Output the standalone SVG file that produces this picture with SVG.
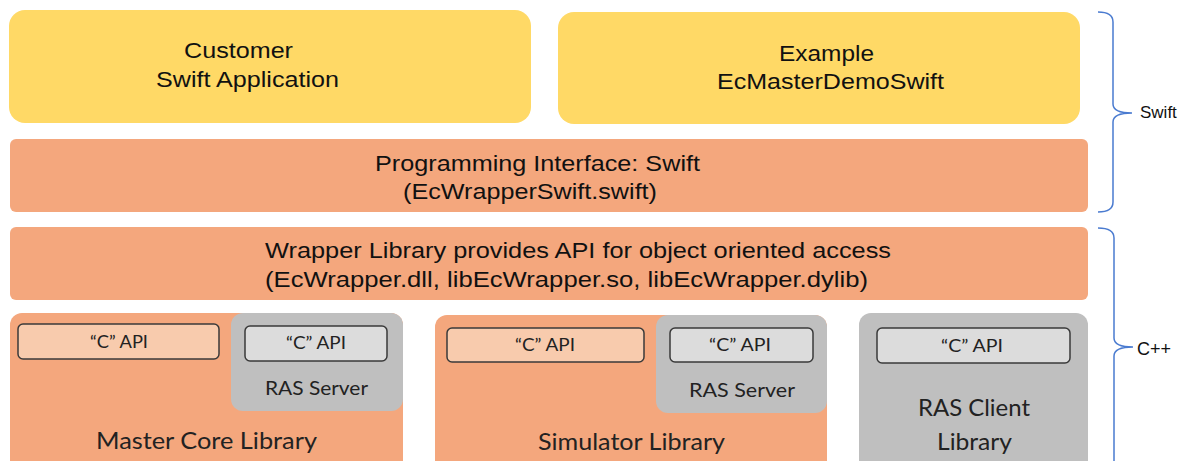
<svg xmlns="http://www.w3.org/2000/svg" width="1187" height="461" viewBox="0 0 1187 461">
<style>
.app{fill:#FFD966;}
.layer{fill:#F4A77D;}
.gray{fill:#BFBFBF;}
.capi-o{fill:#F8CBAD;stroke:#3A3A3A;stroke-width:1.5;}
.capi-g{fill:#DCDCDC;stroke:#3A3A3A;stroke-width:1.5;}
.t1{font-family:"Liberation Sans",Arial,sans-serif;font-size:22.5px;fill:#111;text-anchor:middle;}
.t2{font-family:Lato,"Open Sans",sans-serif;fill:#222;text-anchor:middle;}
.c{font-size:17px;}
.brace{fill:none;stroke:#4A7BD0;stroke-width:1.5;}
.bl{font-family:"Liberation Sans",Arial,sans-serif;fill:#111;}
</style>
<rect width="1187" height="461" fill="#FFFFFF"/>
<g id="customer-app">
<rect class="app" x="9" y="10" width="522" height="113" rx="16"/>
<text class="t1" x="238.5" y="58" textLength="109" lengthAdjust="spacingAndGlyphs">Customer</text>
<text class="t1" x="247.5" y="87" textLength="183" lengthAdjust="spacingAndGlyphs">Swift Application</text>
</g>
<g id="example-app">
<rect class="app" x="558" y="12" width="522" height="112" rx="16"/>
<text class="t1" x="826.5" y="61" textLength="95" lengthAdjust="spacingAndGlyphs">Example</text>
<text class="t1" x="830.5" y="89" textLength="227" lengthAdjust="spacingAndGlyphs">EcMasterDemoSwift</text>
</g>
<g id="swift-interface">
<rect class="layer" x="10" y="139" width="1078" height="73" rx="6"/>
<text class="t1" x="537.5" y="171" textLength="325" lengthAdjust="spacingAndGlyphs">Programming Interface: Swift</text>
<text class="t1" x="530" y="199" textLength="254" lengthAdjust="spacingAndGlyphs">(EcWrapperSwift.swift)</text>
</g>
<g id="wrapper-library">
<rect class="layer" x="10" y="227" width="1078" height="73" rx="6"/>
<text class="t1" x="578" y="258" textLength="626" lengthAdjust="spacingAndGlyphs">Wrapper Library provides API for object oriented access</text>
<text class="t1" x="566.5" y="287" textLength="603" lengthAdjust="spacingAndGlyphs">(EcWrapper.dll, libEcWrapper.so, libEcWrapper.dylib)</text>
</g>
<g id="master-core-library">
<rect class="layer" x="10" y="313" width="393" height="165" rx="12"/>
<rect class="capi-o" x="18" y="324" width="201" height="35" rx="5"/>
<text class="t2 c" x="119" y="348" textLength="58" lengthAdjust="spacingAndGlyphs">“C” API</text>
<text class="t2" x="206.5" y="449" font-size="23" textLength="221" lengthAdjust="spacingAndGlyphs">Master Core Library</text>
</g>
<g id="master-ras-server">
<rect class="gray" x="231" y="313" width="172" height="98" rx="12"/>
<rect class="capi-g" x="245" y="326" width="142" height="35" rx="5"/>
<text class="t2 c" x="316" y="349" textLength="60" lengthAdjust="spacingAndGlyphs">“C” API</text>
<text class="t2" x="316.5" y="395" font-size="19" textLength="103" lengthAdjust="spacingAndGlyphs">RAS Server</text>
</g>
<g id="simulator-library">
<rect class="layer" x="435" y="315" width="392" height="165" rx="12"/>
<rect class="capi-o" x="447" y="328" width="197" height="34" rx="5"/>
<text class="t2 c" x="545" y="351" textLength="60" lengthAdjust="spacingAndGlyphs">“C” API</text>
<text class="t2" x="631.5" y="450" font-size="23" textLength="187" lengthAdjust="spacingAndGlyphs">Simulator Library</text>
</g>
<g id="simulator-ras-server">
<rect class="gray" x="656" y="315" width="171" height="98" rx="12"/>
<rect class="capi-g" x="670" y="328" width="143" height="34" rx="5"/>
<text class="t2 c" x="740" y="351" textLength="62" lengthAdjust="spacingAndGlyphs">“C” API</text>
<text class="t2" x="742" y="397" font-size="19" textLength="106" lengthAdjust="spacingAndGlyphs">RAS Server</text>
</g>
<g id="ras-client-library">
<rect class="gray" x="859" y="313" width="229" height="165" rx="12"/>
<rect class="capi-g" x="877" y="328" width="193" height="35" rx="5"/>
<text class="t2 c" x="972" y="352" textLength="62" lengthAdjust="spacingAndGlyphs">“C” API</text>
<text class="t2" x="974" y="416" font-size="23" textLength="112" lengthAdjust="spacingAndGlyphs">RAS Client</text>
<text class="t2" x="974.5" y="450" font-size="23" textLength="75" lengthAdjust="spacingAndGlyphs">Library</text>
</g>
<g id="connectors">
<path class="brace" d="M1098,12 Q1113,12 1113,22 L1113,104 Q1113,113 1132,113 Q1113,113 1113,122 L1113,202 Q1113,212 1098,212"/>
<path class="brace" d="M1098,228 Q1114,228 1114,238 L1114,338 Q1114,347 1133,347 Q1114,347 1114,356 L1114,470"/>
</g>
<g id="labels">
<text class="bl" x="1140" y="118" font-size="17">Swift</text>
<text class="bl" x="1137" y="355" font-size="18">C++</text>
</g>
</svg>
